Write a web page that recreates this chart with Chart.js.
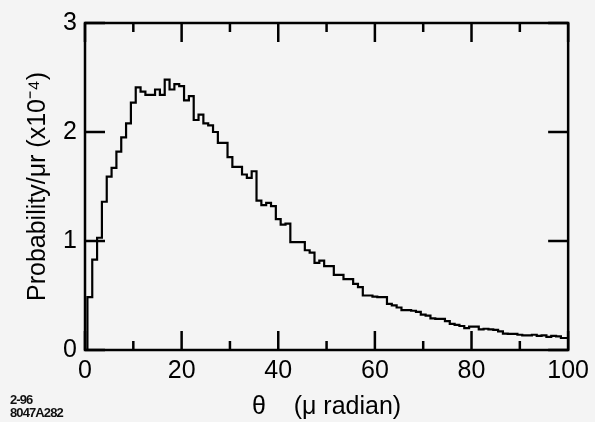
<!DOCTYPE html>
<html>
<head>
<meta charset="utf-8">
<script src="https://cdn.jsdelivr.net/npm/chart.js@4.4.1/dist/chart.umd.min.js"></script>
<style>
  html, body { margin: 0; padding: 0; background: #f4f4f4; }
  #wrap { position: relative; width: 595px; height: 422px; overflow: hidden; }
  canvas { position: absolute; left: 0; top: 0; }
  .note { position: absolute; left: 10px; font-family: "Liberation Sans", Arial, sans-serif; font-weight: bold; font-size: 13px; line-height: 13px; color: #111; letter-spacing: -0.9px; transform: scaleY(1.05); transform-origin: left top; }
</style>
</head>
<body>
<div id="wrap">
  <canvas id="c" width="595" height="422"></canvas>
  <div class="note" style="top:392px;">2-96</div>
  <div class="note" style="top:405px;">8047A282</div>
</div>
<script>
// Bin centres (μrad) and probability per μrad (×10^-4)
const theta = [0,1,2,3,4,5,6,7,8,9,10,11,12,13,14,15,16,17,18,19,20,21,22,23,24,25,26,27,28,29,30,31,32,33,34,35,36,37,38,39,40,41,42,43,44,45,46,47,48,49,50,51,52,53,54,55,56,57,58,59,60,61,62,63,64,65,66,67,68,69,70,71,72,73,74,75,76,77,78,79,80,81,82,83,84,85,86,87,88,89,90,91,92,93,94,95,96,97,98,99,100];
const prob = [0,0.485,0.83,1.03,1.36,1.59,1.67,1.82,1.95,2.08,2.27,2.41,2.37,2.34,2.34,2.39,2.34,2.48,2.39,2.44,
  2.42,2.29,2.33,2.11,2.16,2.08,2.06,2.00,1.90,1.90,1.77,1.68,1.68,1.61,1.58,1.64,1.37,1.33,1.35,1.32,
  1.20,1.15,1.16,0.99,0.99,0.99,0.915,0.894,0.80,0.82,0.77,0.77,0.69,0.69,0.65,0.65,0.606,0.576,0.50,0.50,
  0.49,0.485,0.485,0.424,0.41,0.39,0.365,0.365,0.36,0.35,0.325,0.315,0.29,0.285,0.285,0.265,0.24,0.23,0.22,0.20,
  0.215,0.215,0.19,0.195,0.19,0.185,0.17,0.15,0.148,0.148,0.14,0.135,0.135,0.14,0.13,0.135,0.12,0.13,0.125,0.11,0.11];
const xMajorTicks = [0,20,40,60,80,100];
const xMinorTicks = [10,30,50,70,90];
const yMajorTicks = [0,1,2,3];

const points = theta.map((t, i) => ({x: t, y: prob[i]}));
const FONT = '"Liberation Sans", Arial, sans-serif';

const framePlugin = {
  id: 'frame',
  beforeDraw(chart) {
    const ctx = chart.ctx;
    ctx.save();
    ctx.fillStyle = '#f4f4f4';
    ctx.fillRect(0, 0, chart.width, chart.height);
    ctx.restore();
  },
  afterDraw(chart) {
    const {ctx, chartArea: a, scales: {x, y}} = chart;
    ctx.save();
    ctx.strokeStyle = '#000';
    ctx.lineWidth = 2.5;
    ctx.strokeRect(a.left, a.top, a.right - a.left, a.bottom - a.top);
    ctx.beginPath();
    xMajorTicks.forEach(v => {
      const px = x.getPixelForValue(v);
      ctx.moveTo(px, a.bottom); ctx.lineTo(px, a.bottom - 19);
      ctx.moveTo(px, a.top); ctx.lineTo(px, a.top + 19);
    });
    xMinorTicks.forEach(v => {
      const px = x.getPixelForValue(v);
      ctx.moveTo(px, a.bottom); ctx.lineTo(px, a.bottom - 9);
      ctx.moveTo(px, a.top); ctx.lineTo(px, a.top + 9);
    });
    yMajorTicks.forEach(v => {
      const py = y.getPixelForValue(v);
      ctx.moveTo(a.left, py); ctx.lineTo(a.left + 20, py);
      ctx.moveTo(a.right, py); ctx.lineTo(a.right - 20, py);
    });
    ctx.stroke();
    ctx.restore();
  }
};

new Chart(document.getElementById('c'), {
  type: 'line',
  data: {
    datasets: [{
      data: points,
      stepped: 'middle',
      borderColor: '#000',
      borderWidth: 2.2,
      pointRadius: 0,
      fill: false
    }]
  },
  options: {
    responsive: false,
    animation: false,
    layout: { padding: { top: 20, right: 23, left: 0, bottom: 0 } },
    plugins: { legend: { display: false }, tooltip: { enabled: false } },
    scales: {
      x: {
        type: 'linear',
        min: 0, max: 100,
        afterBuildTicks(s) { s.ticks = xMajorTicks.map(v => ({value: v})); },
        afterFit(s) { s.height = 72; },
        grid: { display: false, drawTicks: false },
        border: { display: false },
        ticks: { color: '#000', padding: 6, maxRotation: 0,
          font: { family: FONT, size: 25 } },
        title: { display: true, text: 'θ    (μ radian)', color: '#000',
          padding: { top: 0, bottom: 0 },
          font: { family: FONT, size: 25 } }
      },
      y: {
        min: 0, max: 3,
        afterBuildTicks(s) { s.ticks = yMajorTicks.map(v => ({value: v})); },
        afterFit(s) { s.width = 85; },
        grid: { display: false, drawTicks: false },
        border: { display: false },
        ticks: { color: '#000', padding: 8,
          font: { family: FONT, size: 25 } },
        title: { display: true, text: 'Probability/μr (x10⁻⁴)', color: '#000',
          padding: { top: 23, bottom: 0 },
          font: { family: FONT, size: 25 } }
      }
    }
  },
  plugins: [framePlugin]
});
</script>
</body>
</html>
